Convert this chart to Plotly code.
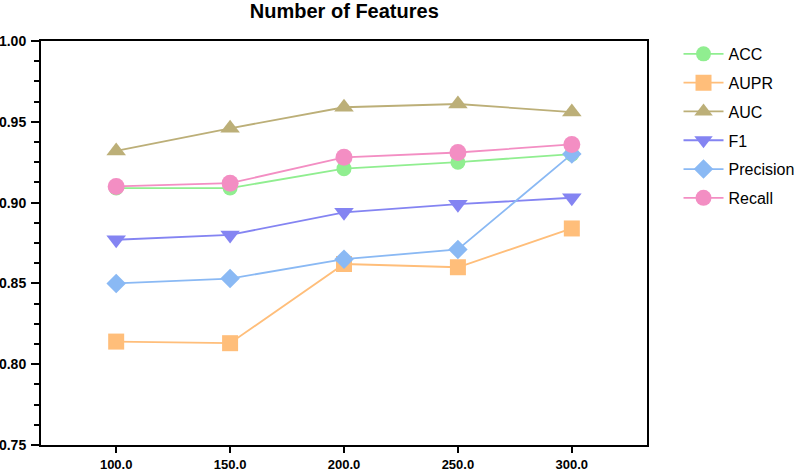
import plotly.graph_objects as go

features = [100, 150, 200, 250, 300]
tick_labels = ["100.0", "150.0", "200.0", "250.0", "300.0"]
acc = [0.909, 0.909, 0.921, 0.925, 0.930]
aupr = [0.814, 0.813, 0.862, 0.860, 0.884]
auc = [0.932, 0.946, 0.959, 0.961, 0.956]
f1 = [0.877, 0.880, 0.894, 0.899, 0.903]
precision = [0.850, 0.853, 0.865, 0.871, 0.930]
recall = [0.910, 0.912, 0.928, 0.931, 0.936]

series = [
    ("ACC", acc, "#90EE90", "circle", 15),
    ("AUPR", aupr, "#FFBE7A", "square", 16),
    ("AUC", auc, "#BCAF78", "triangle-up", 17),
    ("F1", f1, "#8484F2", "triangle-down", 17),
    ("Precision", precision, "#8AB9F4", "diamond", 15),
    ("Recall", recall, "#F38EC3", "circle", 17),
]

FONT = "Arial, Liberation Sans, sans-serif"

fig = go.Figure()
for name, vals, color, sym, size in series:
    fig.add_trace(go.Scatter(
        x=features, y=vals, name=name, mode="lines+markers",
        line=dict(color=color, width=1.8),
        marker=dict(symbol=sym, size=size, color=color, line=dict(width=0)),
        legendgroup=name,
    ))

fig.update_layout(
    width=797, height=471,
    margin=dict(l=41, r=150, t=41, b=26, autoexpand=False),
    paper_bgcolor="white", plot_bgcolor="white",
    font=dict(family=FONT, color="black"),
    title=dict(text="<b>Number of Features</b>", x=0.432, xanchor="center",
               y=0.977, yanchor="middle", font=dict(size=20, color="black", family=FONT)),
    legend=dict(x=1.052, y=1.01, xanchor="left", yanchor="top",
                font=dict(size=16), tracegroupgap=5, itemwidth=40,
                bgcolor="rgba(0,0,0,0)"),
    showlegend=True,
)
fig.update_xaxes(
    range=[67, 333], tickmode="array", tickvals=features, ticktext=tick_labels,
    showline=True, linecolor="black", linewidth=2, mirror=True,
    ticks="outside", ticklen=6, tickwidth=2, tickcolor="black",
    ticklabelstandoff=0,
    showgrid=False, zeroline=False, automargin=False,
    tickfont=dict(size=13, color="black", family=FONT, weight="bold"),
)
fig.update_yaxes(
    range=[0.75, 1.0], tickmode="linear", tick0=0.75, dtick=0.05, tickformat=".2f",
    showline=True, linecolor="black", linewidth=2, mirror=True,
    ticks="outside", ticklen=8, tickwidth=2, tickcolor="black",
    ticklabelstandoff=2,
    showgrid=False, zeroline=False, automargin=False,
    minor=dict(dtick=0.0125, tick0=0.75, ticks="outside", ticklen=5, tickwidth=2,
               tickcolor="black", showgrid=False),
    tickfont=dict(size=14, color="black", family=FONT, weight="bold"),
)

fig.write_html("out.html", config={"displayModeBar": False},
               post_script="document.body.style.margin='0';document.body.style.padding='0';")
